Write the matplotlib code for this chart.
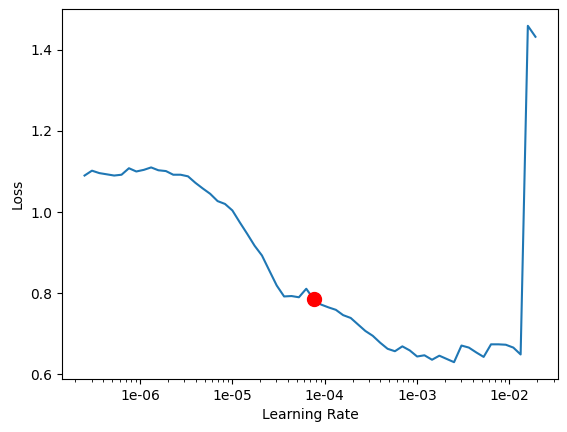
import numpy as np
import matplotlib
matplotlib.use("Agg")
import matplotlib.pyplot as plt
from matplotlib.ticker import FormatStrFormatter

# learning rates tried by the finder
lrs = [2.51e-7, 3.02e-7, 3.63e-7, 4.37e-7, 5.25e-7, 6.31e-7, 7.59e-7, 9.12e-7,
       1.10e-6, 1.32e-6, 1.58e-6, 1.91e-6, 2.29e-6, 2.75e-6, 3.31e-6, 3.98e-6,
       4.79e-6, 5.75e-6, 6.92e-6, 8.32e-6, 1.00e-5, 1.20e-5, 1.45e-5, 1.74e-5,
       2.09e-5, 2.51e-5, 3.02e-5, 3.63e-5, 4.37e-5, 5.25e-5, 6.31e-5, 7.59e-5,
       9.12e-5, 1.10e-4, 1.32e-4, 1.58e-4, 1.91e-4, 2.29e-4, 2.75e-4, 3.31e-4,
       3.98e-4, 4.79e-4, 5.75e-4, 6.92e-4, 8.32e-4, 1.00e-3, 1.20e-3, 1.45e-3,
       1.74e-3, 2.09e-3, 2.51e-3, 3.02e-3, 3.63e-3, 4.37e-3, 5.25e-3, 6.31e-3,
       7.59e-3, 9.12e-3, 1.10e-2, 1.32e-2, 1.58e-2, 1.91e-2]

losses = [1.090, 1.102, 1.096, 1.093, 1.090, 1.092, 1.108, 1.100,
          1.104, 1.110, 1.103, 1.101, 1.092, 1.092, 1.088, 1.072,
          1.058, 1.045, 1.027, 1.020, 1.004, 0.975, 0.946, 0.917,
          0.893, 0.856, 0.819, 0.792, 0.793, 0.790, 0.811, 0.785,
          0.772, 0.765, 0.759, 0.746, 0.739, 0.723, 0.707, 0.695,
          0.678, 0.663, 0.657, 0.669, 0.659, 0.644, 0.647, 0.636,
          0.646, 0.638, 0.630, 0.671, 0.666, 0.654, 0.643, 0.674,
          0.674, 0.673, 0.666, 0.649, 1.459, 1.432]

best = 31  # suggested point (min gradient)

fig, ax = plt.subplots(figsize=(5.67, 4.32), dpi=100)
fig.subplots_adjust(left=62/567, right=558/567, bottom=1-379/432, top=1-9/432)

ax.plot(lrs, losses)
ax.plot(lrs[best], losses[best], markersize=10, marker='o', color='red')
ax.set_xscale('log')
ax.xaxis.set_major_formatter(FormatStrFormatter('%.0e'))
ax.set_xlabel('Learning Rate')
ax.set_ylabel('Loss')

fig.savefig('out.png', dpi=100)
